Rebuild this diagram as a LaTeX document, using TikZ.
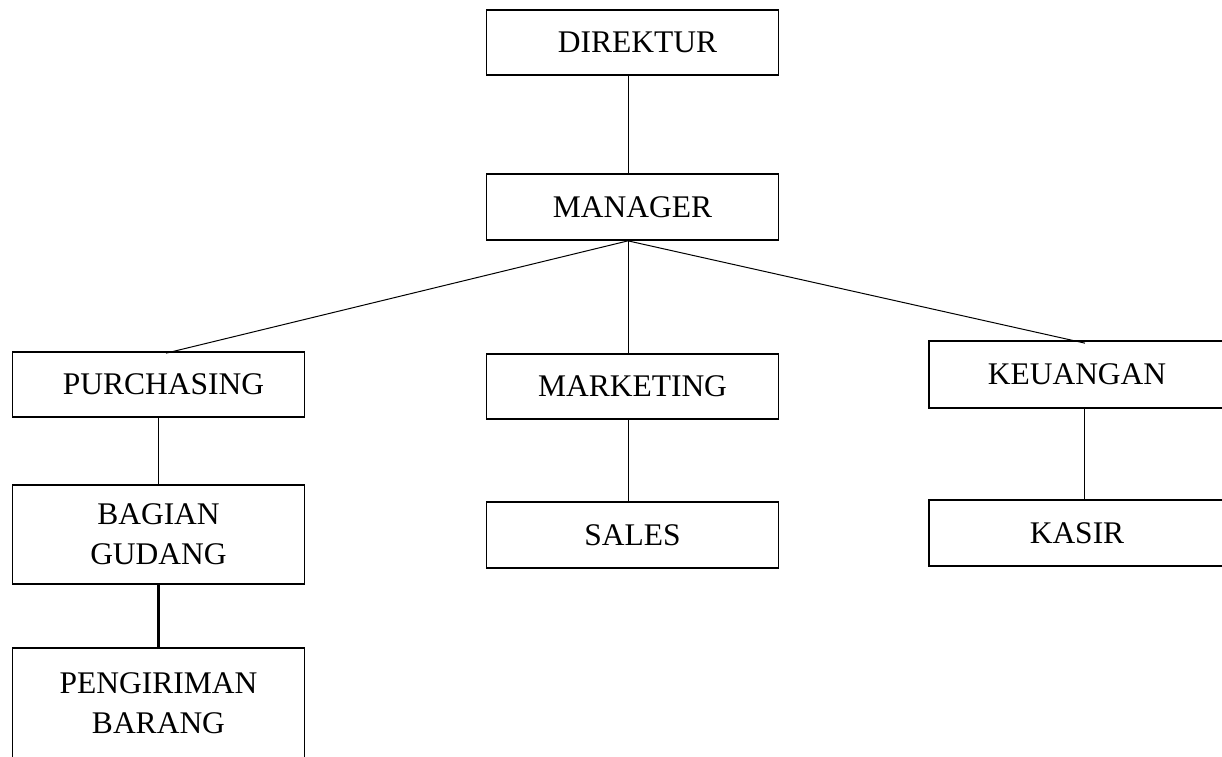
\documentclass[tikz,border=0pt]{standalone}
\usepackage{fontspec}
\setmainfont{Liberation Serif}
\usetikzlibrary{positioning}

\tikzset{
  unit/.style={draw, line width=1.7pt, rectangle, minimum width=292pt,
    minimum height=65pt, align=center, inner sep=0pt,
    font=\fontsize{31.5}{40}\selectfont},
  link/.style={line width=1pt},
  boldlink/.style={line width=3.3pt}
}

\begin{document}
\begin{tikzpicture}[x=1pt, y=-1pt]
    \useasboundingbox (0,0) rectangle (1222,756);
    % Top of the chart
    \node [unit] (direktur) at (632.5, 42.5) {\hspace*{10pt}DIREKTUR};
    \node [unit, minimum height=66pt] (manager) at (632.5, 207) {MANAGER};
    % Second level
    \node [unit] (purchasing) at (158.5, 384.5) {\hspace*{10pt}PURCHASING};
    \node [unit] (marketing) at (632.5, 386.5) {MARKETING};
    \node [unit, minimum width=296pt, minimum height=67pt] (keuangan) at (1077, 374.5) {KEUANGAN};
    % Third level
    \node [unit, minimum height=99pt] (gudang) at (158.5, 534.5) {BAGIAN\\GUDANG};
    \node [unit, minimum height=66pt] (sales) at (632.5, 535) {SALES};
    \node [unit, minimum width=296pt, minimum height=66pt] (kasir) at (1077, 533) {KASIR};
    \node [unit, minimum height=110pt] (pengiriman) at (158.5, 703) {PENGIRIMAN\\BARANG};
    % Lines
    \coordinate (hub) at ([xshift=-4.5pt]manager.south);
    \draw [link] ([xshift=-4.5pt]direktur.south) -- ([xshift=-4.5pt]manager.north);
    \draw [link] (hub) -- ([xshift=7.5pt, yshift=-2pt]purchasing.north);
    \draw [link] (hub) -- ([xshift=-4.5pt]marketing.north);
    \draw [link] (hub) -- ([xshift=8pt, yshift=-3pt]keuangan.north);
    \draw [link] (purchasing.south) -- (gudang.north);
    \draw [link] ([xshift=-4.5pt]marketing.south) -- ([xshift=-4.5pt]sales.north);
    \draw [link] ([xshift=7pt]keuangan.south) -- ([xshift=7pt]kasir.north);
    \draw [boldlink] (gudang.south) -- (pengiriman.north);
\end{tikzpicture}
\end{document}
